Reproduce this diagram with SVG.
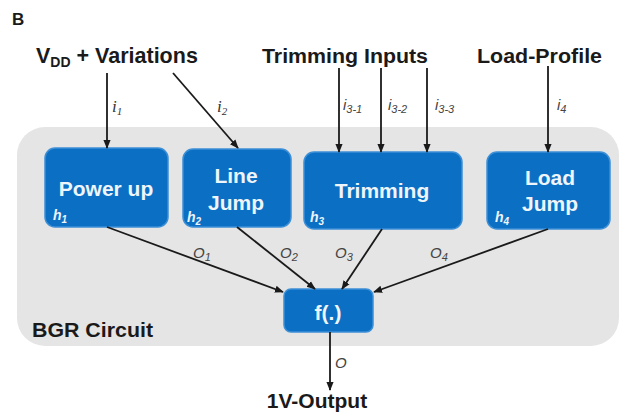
<svg xmlns="http://www.w3.org/2000/svg" width="620" height="413" viewBox="0 0 620 413">
  <defs>
    <marker id="arrow" viewBox="0 0 10 10" refX="9" refY="5" markerWidth="5" markerHeight="5" orient="auto" markerUnits="strokeWidth">
      <path d="M0,1 L10,5 L0,9 z" fill="#1a1a1a"/>
    </marker>
    <style>
      .title { font-family: "Liberation Sans", Arial, sans-serif; font-weight: bold; fill: #1a1a1a; }
      .box { fill: #0b6fc4; stroke: #3d8fd6; stroke-width: 1.5; }
      .btxt { font-family: "Liberation Sans", Arial, sans-serif; font-weight: bold; font-size: 21px; fill: #eef5fb; text-anchor: middle; }
      .htxt { font-family: "Liberation Sans", Arial, sans-serif; font-weight: bold; font-style: italic; font-size: 14px; fill: #eef5fb; }
      .lbl { font-family: "Liberation Sans", Arial, sans-serif; font-style: italic; font-size: 15px; fill: #444; }
      .lbls { font-family: "Liberation Serif", "Times New Roman", serif; font-style: italic; font-size: 17px; fill: #333; }
      .wire { stroke: #1a1a1a; stroke-width: 1.8; fill: none; marker-end: url(#arrow); }
    </style>
  </defs>

  <rect width="620" height="413" fill="#ffffff"/>

  <!-- panel letter -->
  <text class="title" x="12" y="25" font-size="17">B</text>

  <!-- BGR circuit background -->
  <g id="bgr">
    <rect x="17" y="127" width="602" height="219" rx="28" fill="#e5e5e5"/>
    <text class="title" x="32" y="337" font-size="20.5" textLength="121" lengthAdjust="spacingAndGlyphs">BGR Circuit</text>
  </g>

  <!-- input sources -->
  <g id="src-vdd">
    <text class="title" x="36" y="63" font-size="21.5">V<tspan font-size="14" dy="4">DD</tspan><tspan dy="-4"> + Variations</tspan></text>
  </g>
  <g id="src-trim">
    <text class="title" x="262" y="63" font-size="20" textLength="166" lengthAdjust="spacingAndGlyphs">Trimming Inputs</text>
  </g>
  <g id="src-load">
    <text class="title" x="477" y="63" font-size="20" textLength="125" lengthAdjust="spacingAndGlyphs">Load-Profile</text>
  </g>

  <!-- blocks -->
  <g id="powerup">
    <rect class="box" x="45" y="148" width="123" height="79" rx="10"/>
    <text class="btxt" x="106" y="196">Power up</text>
    <text class="htxt" x="53" y="220">h<tspan font-size="10" dy="3">1</tspan></text>
  </g>
  <g id="linejump">
    <rect class="box" x="183" y="149" width="108" height="78" rx="10"/>
    <text class="btxt" x="236" y="183">Line</text>
    <text class="btxt" x="236" y="210">Jump</text>
    <text class="htxt" x="187" y="222">h<tspan font-size="10" dy="3">2</tspan></text>
  </g>
  <g id="trimming">
    <rect class="box" x="304" y="152" width="158" height="77" rx="10"/>
    <text class="btxt" x="382" y="198">Trimming</text>
    <text class="htxt" x="310" y="222">h<tspan font-size="10" dy="3">3</tspan></text>
  </g>
  <g id="loadjump">
    <rect class="box" x="487" y="152" width="123" height="77" rx="10"/>
    <text class="btxt" x="550" y="185">Load</text>
    <text class="btxt" x="550" y="211">Jump</text>
    <text class="htxt" x="495" y="222">h<tspan font-size="10" dy="3">4</tspan></text>
  </g>
  <g id="fcomb">
    <rect class="box" x="284" y="289" width="89" height="43" rx="7"/>
    <text class="btxt" x="328" y="320" font-size="20">f(.)</text>
  </g>

  <!-- output -->
  <g id="output">
    <text class="title" x="317" y="408" font-size="21" text-anchor="middle">1V-Output</text>
  </g>

  <!-- connectors -->
  <g id="connectors">
    <line class="wire" x1="107" y1="73" x2="107" y2="148"/>
    <line class="wire" x1="173" y1="73" x2="238" y2="148"/>
    <line class="wire" x1="339" y1="68" x2="339" y2="152"/>
    <line class="wire" x1="381" y1="68" x2="381" y2="152"/>
    <line class="wire" x1="427" y1="68" x2="427" y2="152"/>
    <line class="wire" x1="548" y1="66" x2="548" y2="152"/>

    <line class="wire" x1="107" y1="227" x2="283" y2="292"/>
    <line class="wire" x1="237" y1="227" x2="315" y2="289"/>
    <line class="wire" x1="382" y1="229" x2="342" y2="289"/>
    <line class="wire" x1="548" y1="229" x2="374" y2="292"/>

    <line class="wire" x1="330" y1="332" x2="330" y2="390"/>

    <!-- connector labels -->
    <text class="lbls" x="112" y="112">i<tspan font-size="11" dy="3">1</tspan></text>
    <text class="lbls" x="217" y="112">i<tspan font-size="11" dy="3">2</tspan></text>
    <text class="lbl" x="343" y="110">i<tspan font-size="11" dy="3">3-1</tspan></text>
    <text class="lbl" x="388" y="110">i<tspan font-size="11" dy="3">3-2</tspan></text>
    <text class="lbl" x="435" y="110">i<tspan font-size="11" dy="3">3-3</tspan></text>
    <text class="lbl" x="557" y="110">i<tspan font-size="11" dy="3">4</tspan></text>

    <text class="lbl" x="193" y="258">O<tspan font-size="11" dy="3">1</tspan></text>
    <text class="lbl" x="280" y="258">O<tspan font-size="11" dy="3">2</tspan></text>
    <text class="lbl" x="335" y="258">O<tspan font-size="11" dy="3">3</tspan></text>
    <text class="lbl" x="430" y="258">O<tspan font-size="11" dy="3">4</tspan></text>
    <text class="lbl" x="335" y="368">O</text>
  </g>
</svg>
